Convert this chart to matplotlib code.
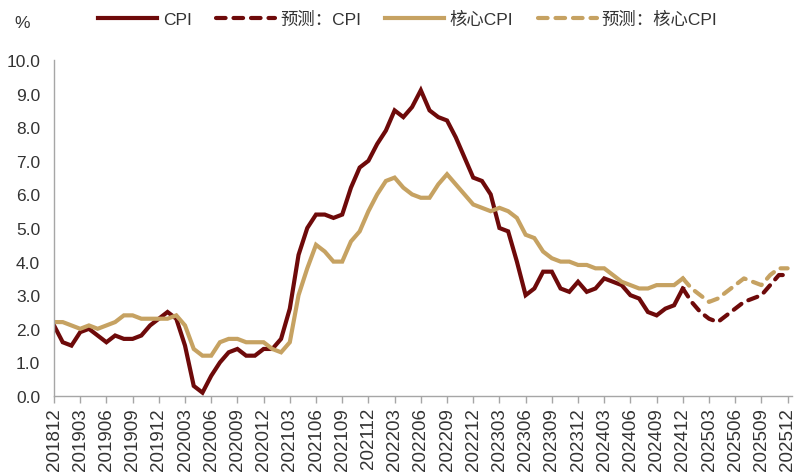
import numpy as np
import pandas as pd
import matplotlib
matplotlib.use("Agg")
import matplotlib.pyplot as plt

plt.rcParams['font.family'] = ['Liberation Sans', 'Noto Sans CJK SC', 'DejaVu Sans']

# monthly labels 201812 .. 202512
months = [p.strftime('%Y%m') for p in pd.period_range('2018-12', '2025-12', freq='M')]

# actual YoY, 201812 .. 202412 (%)
cpi = [2.1,
       1.6, 1.5, 1.9, 2.0, 1.8, 1.6, 1.8, 1.7, 1.7, 1.8, 2.1, 2.3,
       2.5, 2.3, 1.5, 0.3, 0.1, 0.6, 1.0, 1.3, 1.4, 1.2, 1.2, 1.4,
       1.4, 1.7, 2.6, 4.2, 5.0, 5.4, 5.4, 5.3, 5.4, 6.2, 6.8, 7.0,
       7.5, 7.9, 8.5, 8.3, 8.6, 9.1, 8.5, 8.3, 8.2, 7.7, 7.1, 6.5,
       6.4, 6.0, 5.0, 4.9, 4.0, 3.0, 3.2, 3.7, 3.7, 3.2, 3.1, 3.4,
       3.1, 3.2, 3.5, 3.4, 3.3, 3.0, 2.9, 2.5, 2.4, 2.6, 2.7, 3.2]
core = [2.2,
        2.2, 2.1, 2.0, 2.1, 2.0, 2.1, 2.2, 2.4, 2.4, 2.3, 2.3, 2.3,
        2.3, 2.4, 2.1, 1.4, 1.2, 1.2, 1.6, 1.7, 1.7, 1.6, 1.6, 1.6,
        1.4, 1.3, 1.6, 3.0, 3.8, 4.5, 4.3, 4.0, 4.0, 4.6, 4.9, 5.5,
        6.0, 6.4, 6.5, 6.2, 6.0, 5.9, 5.9, 6.3, 6.6, 6.3, 6.0, 5.7,
        5.6, 5.5, 5.6, 5.5, 5.3, 4.8, 4.7, 4.3, 4.1, 4.0, 4.0, 3.9,
        3.9, 3.8, 3.8, 3.6, 3.4, 3.3, 3.2, 3.2, 3.3, 3.3, 3.3, 3.5]

# forecast, 202412 .. 202512
cpi_fc = [3.2, 2.8, 2.5, 2.3, 2.2, 2.4, 2.6, 2.8, 2.9, 3.0, 3.3, 3.6, 3.6]
core_fc = [3.5, 3.2, 3.0, 2.8, 2.9, 3.1, 3.3, 3.5, 3.4, 3.3, 3.6, 3.8, 3.8]

red = '#6E0A0A'
tan = '#C6A262'
txt = '#333333'

x_act = np.arange(len(cpi))
x_fc = np.arange(len(cpi) - 1, len(cpi) - 1 + len(cpi_fc))

fig = plt.figure(figsize=(8.03, 4.77), dpi=100)
ax = fig.add_axes([54/803, 1-397/477, (792-54)/803, (397-61)/477])

lw = 3
ax.plot(x_act, cpi, color=red, lw=lw, label='CPI', solid_joinstyle='miter')
ax.plot(x_fc, cpi_fc, color=red, lw=lw, ls=(0, (2.3, 1.9)), dash_capstyle='round',
        label='预测：CPI')
ax.plot(x_act, core, color=tan, lw=lw, label='核心CPI', solid_joinstyle='miter')
ax.plot(x_fc, core_fc, color=tan, lw=lw, ls=(0, (2.3, 1.9)), dash_capstyle='round',
        label='预测：核心CPI')

ax.set_xlim(0, 84.5)
ax.set_ylim(0, 10)
ax.set_yticks(np.arange(0, 10.01, 1.0))
ax.set_yticklabels([f'{v:.1f}' for v in np.arange(0, 10.01, 1.0)])
ticks = np.arange(0, len(months), 3)
ax.set_xticks(ticks)
ax.set_xticklabels([months[i] for i in ticks], rotation=90)

for s in ['top', 'right']:
    ax.spines[s].set_visible(False)
for s in ['left', 'bottom']:
    ax.spines[s].set_color('#A6A6A6')
    ax.spines[s].set_linewidth(1.0)
ax.tick_params(axis='y', length=0, pad=10, labelsize=12.5, colors=txt)
ax.tick_params(axis='x', length=5, width=1, color='#A6A6A6', pad=3,
               labelsize=13.5, labelcolor=txt)

fig.text(22/803, 1-24/477, '%', fontsize=12.5, color=txt, ha='center', va='center')

fig.legend(loc='center', bbox_to_anchor=(408/803, 1-20/477), ncol=4, frameon=False,
           fontsize=12.5, handlelength=3.4, handletextpad=0.3, columnspacing=1.4,
           labelcolor=txt)

fig.savefig('out.png', dpi=100)
